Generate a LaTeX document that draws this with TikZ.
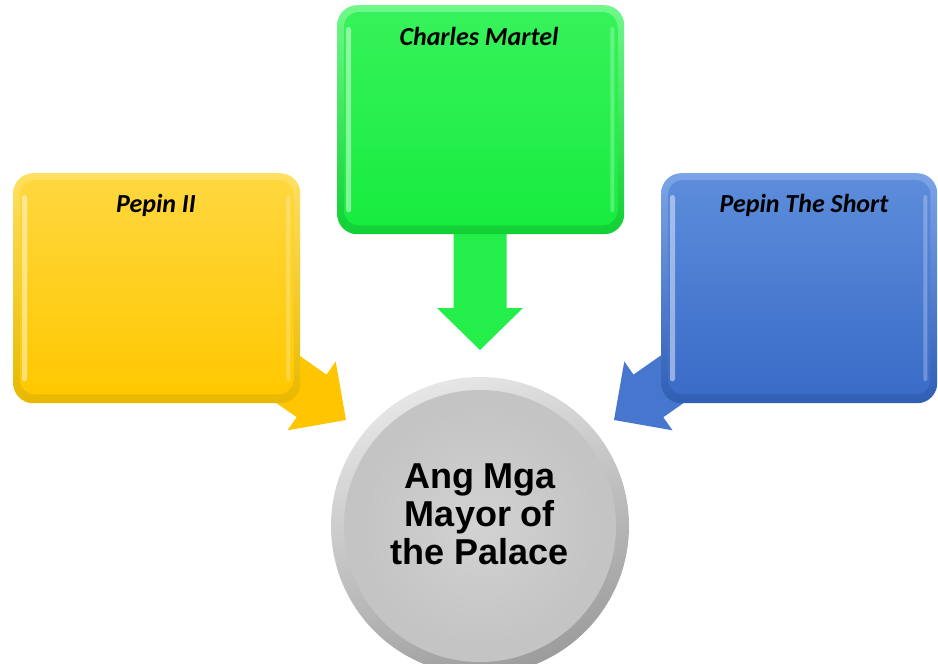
\documentclass[tikz,border=0pt]{standalone}
\usepackage{fontspec}
\setmainfont{Liberation Sans}
\newfontfamily\calib{Carlito}
\usetikzlibrary{calc}
\definecolor{yrim}{HTML}{E8B800}
\definecolor{yrimtop}{HTML}{FFE060}
\definecolor{yface1}{HTML}{FFD73E}
\definecolor{yface2}{HTML}{FFC800}
\definecolor{grim}{HTML}{10D034}
\definecolor{grimtop}{HTML}{70F88A}
\definecolor{gface1}{HTML}{36F25A}
\definecolor{gface2}{HTML}{18EC40}
\definecolor{brim}{HTML}{2F5EB4}
\definecolor{brimtop}{HTML}{7CA4E8}
\definecolor{bface1}{HTML}{5C8CDA}
\definecolor{bface2}{HTML}{3A6CC8}
\definecolor{yarrow}{HTML}{FFC600}
\definecolor{garrow}{HTML}{24EE4A}
\definecolor{barrow}{HTML}{4676CE}
\definecolor{crim1}{HTML}{E6E6E6}
\definecolor{crim2}{HTML}{9C9C9C}
\definecolor{cface}{HTML}{C4C4C4}
\begin{document}
\begin{tikzpicture}[x=1pt,y=-1pt,
  panel/.style={rounded corners=20pt, inner sep=0pt, anchor=north west, minimum height=230pt},
  lab/.style={font=\calib\bfseries\itshape\fontsize{26}{30}\selectfont, text=black, inner sep=0pt},
  hilite/.style={fill=white, opacity=0.45, rounded corners=2.5pt},
]
\useasboundingbox (0,0) rectangle (938,664);
\clip (0,0) rectangle (938,664);

% ---- block arrows (behind the boxes) ----
\coordinate (ytip) at (346,420);
\coordinate (gtip) at (480,350);
\coordinate (btip) at (614,420);
\begin{scope}[shift={(ytip)}, rotate=-35]
  \fill[yarrow] (0,0) -- (-42,42) -- (-42,26) -- (-130,26) -- (-130,-26) -- (-42,-26) -- (-42,-42) -- cycle;
\end{scope}
\begin{scope}[shift={(btip)}, rotate=-145]
  \fill[barrow] (0,0) -- (-42,42) -- (-42,26) -- (-130,26) -- (-130,-26) -- (-42,-26) -- (-42,-42) -- cycle;
\end{scope}
\begin{scope}[shift={(gtip)}, rotate=-90]
  \fill[garrow] (0,0) -- (-42,43) -- (-42,26.5) -- (-150,26.5) -- (-150,-26.5) -- (-42,-26.5) -- (-42,-43) -- cycle;
\end{scope}

% ---- boxes ----
\node[panel, minimum width=287pt, top color=yrimtop, bottom color=yrim] (pepin) at (13,173) {};
\path[rounded corners=15pt, top color=yface1, bottom color=yface2]
  ([shift={(7,7)}]pepin.north west) rectangle ([shift={(-7,-9)}]pepin.south east);
\fill[hilite] ([shift={(9,22)}]pepin.north west) rectangle ([shift={(14,-22)}]pepin.south west);
\fill[hilite, opacity=0.25] ([shift={(-14,22)}]pepin.north east) rectangle ([shift={(-10,-22)}]pepin.south east);
\node[lab] (pepinlab) at (156,205) {Pepin II};

\node[panel, minimum width=287pt, minimum height=229pt, top color=grimtop, bottom color=grim] (charles) at (337,5) {};
\path[rounded corners=15pt, top color=gface1, bottom color=gface2]
  ([shift={(7,7)}]charles.north west) rectangle ([shift={(-7,-9)}]charles.south east);
\fill[hilite] ([shift={(9,22)}]charles.north west) rectangle ([shift={(14,-22)}]charles.south west);
\fill[hilite, opacity=0.25] ([shift={(-14,22)}]charles.north east) rectangle ([shift={(-10,-22)}]charles.south east);
\node[lab] (charleslab) at (479,36) {Charles Martel};

\node[panel, minimum width=276pt, top color=brimtop, bottom color=brim] (short) at (661,173) {};
\path[rounded corners=15pt, top color=bface1, bottom color=bface2]
  ([shift={(7,7)}]short.north west) rectangle ([shift={(-7,-9)}]short.south east);
\fill[hilite] ([shift={(9,22)}]short.north west) rectangle ([shift={(14,-22)}]short.south west);
\fill[hilite, opacity=0.25] ([shift={(-14,22)}]short.north east) rectangle ([shift={(-10,-22)}]short.south east);
\node[lab] (shortlab) at (804,205) {Pepin The Short};

% ---- central circle ----
\node[circle, minimum size=298pt, inner sep=0pt, top color=crim1, bottom color=crim2, shading angle=20] (mayor) at (480,526) {};
\fill[cface] (mayor.center) circle[radius=136];
\shade[inner color=white, outer color=cface, opacity=0.25] (mayor.center) circle[radius=120];
\node[align=center, inner sep=0pt, font=\bfseries\fontsize{36}{38}\selectfont] (mayortext) at (480,514)
  {Ang Mga\\Mayor of\\the Palace};
\end{tikzpicture}
\end{document}
